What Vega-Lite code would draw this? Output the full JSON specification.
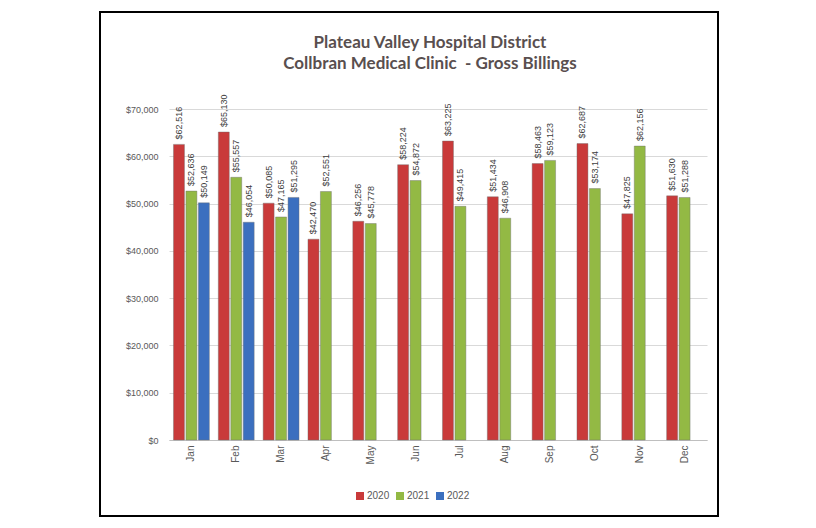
{
  "$schema": "https://vega.github.io/schema/vega-lite/v6.json",
  "autosize": {"type": "none"},
  "padding": {"left": 100, "top": 12, "right": 98, "bottom": 12},
  "width": 618,
  "height": 504,
  "background": "white",
  "config": {
    "view": {"stroke": "#000000", "strokeWidth": 2},
    "font": "Liberation Sans"
  },
  "title": {
    "text": ["Plateau Valley Hospital District", "Collbran Medical Clinic \u00a0- Gross Billings"],
    "font": "Lato",
    "fontSize": 17,
    "fontWeight": "bold",
    "color": "#594f4f",
    "anchor": "middle",
    "frame": "group",
    "dx": 21,
    "offset": -61,
    "lineHeight": 21
  },
  "data": {
    "values": [
      {"month": "Jan", "year": "2020", "value": 62516},
      {"month": "Feb", "year": "2020", "value": 65130},
      {"month": "Mar", "year": "2020", "value": 50085},
      {"month": "Apr", "year": "2020", "value": 42470},
      {"month": "May", "year": "2020", "value": 46256},
      {"month": "Jun", "year": "2020", "value": 58224},
      {"month": "Jul", "year": "2020", "value": 63225},
      {"month": "Aug", "year": "2020", "value": 51434},
      {"month": "Sep", "year": "2020", "value": 58463},
      {"month": "Oct", "year": "2020", "value": 62687},
      {"month": "Nov", "year": "2020", "value": 47825},
      {"month": "Dec", "year": "2020", "value": 51630},
      {"month": "Jan", "year": "2021", "value": 52636},
      {"month": "Feb", "year": "2021", "value": 55557},
      {"month": "Mar", "year": "2021", "value": 47165},
      {"month": "Apr", "year": "2021", "value": 52551},
      {"month": "May", "year": "2021", "value": 45778},
      {"month": "Jun", "year": "2021", "value": 54872},
      {"month": "Jul", "year": "2021", "value": 49415},
      {"month": "Aug", "year": "2021", "value": 46908},
      {"month": "Sep", "year": "2021", "value": 59123},
      {"month": "Oct", "year": "2021", "value": 53174},
      {"month": "Nov", "year": "2021", "value": 62156},
      {"month": "Dec", "year": "2021", "value": 51288},
      {"month": "Jan", "year": "2022", "value": 50149},
      {"month": "Feb", "year": "2022", "value": 46054},
      {"month": "Mar", "year": "2022", "value": 51295}
    ]
  },
  "encoding": {
    "x": {
      "field": "month",
      "type": "nominal",
      "scale": {
        "domain": ["Jan", "Feb", "Mar", "Apr", "May", "Jun", "Jul", "Aug", "Sep", "Oct", "Nov", "Dec"],
        "range": [69, 607],
        "paddingInner": 0.2,
        "paddingOuter": 0.1
      },
      "axis": {
        "title": null,
        "orient": "bottom",
        "offset": -76,
        "labelAngle": 270,
        "labelPadding": 5,
        "labelFontSize": 10,
        "labelColor": "#595959",
        "ticks": false,
        "domain": true,
        "domainColor": "#bfbfbf",
        "domainWidth": 1,
        "grid": false
      }
    },
    "xOffset": {
      "field": "year",
      "type": "nominal",
      "scale": {"domain": ["2020", "2021", "2022"], "paddingInner": 0.12, "paddingOuter": 0}
    },
    "y": {
      "field": "value",
      "type": "quantitative",
      "scale": {"domain": [0, 70000], "range": [428, 97], "nice": false},
      "axis": {
        "title": null,
        "orient": "left",
        "offset": -69,
        "values": [0, 10000, 20000, 30000, 40000, 50000, 60000, 70000],
        "format": "$,.0f",
        "labelPadding": 11,
        "labelFontSize": 9,
        "labelColor": "#595959",
        "ticks": false,
        "domain": false,
        "grid": true,
        "gridColor": "#d9d9d9",
        "gridWidth": 1
      }
    }
  },
  "layer": [
    {
      "mark": {"type": "bar", "stroke": "#6e6e6e", "strokeWidth": 0.6, "strokeOpacity": 0.7},
      "encoding": {
        "color": {
          "field": "year",
          "type": "nominal",
          "scale": {"domain": ["2020", "2021", "2022"], "range": ["#c93a3a", "#93b944", "#3b6fbf"]},
          "legend": {
            "title": null,
            "orient": "none",
            "legendX": 255,
            "legendY": 479,
            "direction": "horizontal",
            "symbolType": "square",
            "symbolSize": 64,
            "symbolStrokeWidth": 0,
            "labelFontSize": 10,
            "labelColor": "#595959",
            "columnPadding": 5,
            "labelOffset": 2
          }
        }
      }
    },
    {
      "mark": {"type": "text", "angle": 270, "align": "left", "baseline": "middle", "dx": 5, "fontSize": 9, "color": "#404040"},
      "encoding": {
        "text": {"field": "value", "type": "quantitative", "format": "$,.0f"}
      }
    }
  ]
}
